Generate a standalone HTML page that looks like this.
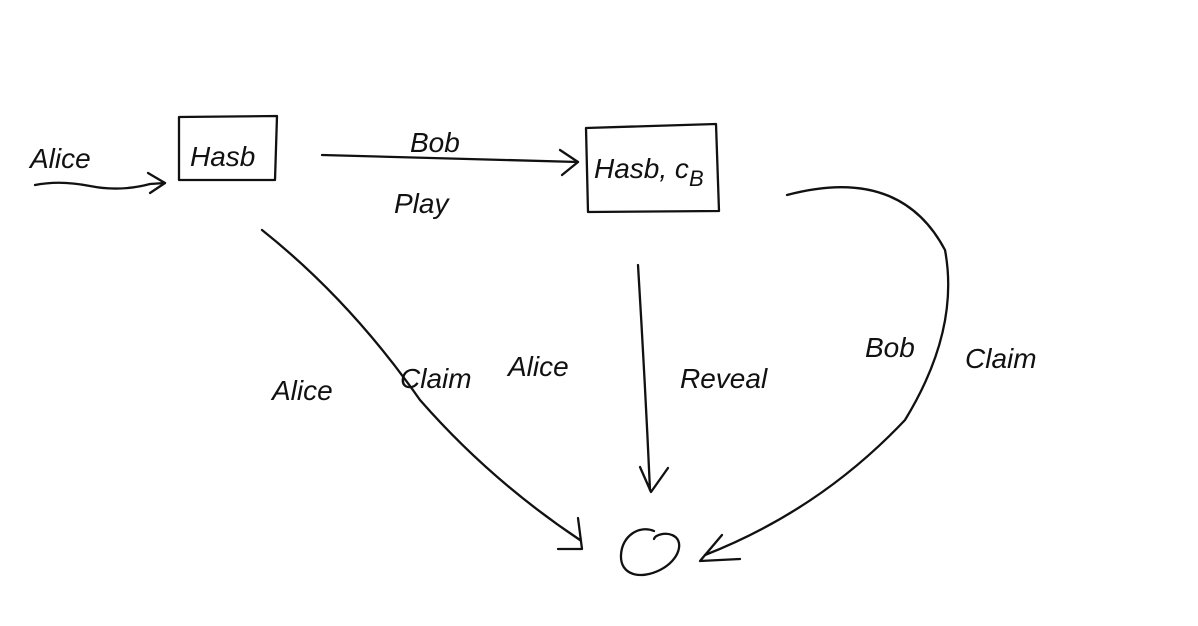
<!DOCTYPE html>
<html><head><meta charset="utf-8"><style>
html,body{margin:0;padding:0;background:#fff;}
svg{display:block;}
text{font-family:"Liberation Sans",sans-serif;font-style:italic;fill:#111;font-size:28px;}
</style></head><body>
<svg width="1198" height="626" viewBox="0 0 1198 626">
<g fill="none" stroke="#111" stroke-width="2.3" stroke-linecap="round" stroke-linejoin="round">
<path d="M35 185 Q60 180 90 186 T150 184 L165 183"/>
<path d="M148 173 L165 183 L150 193"/>
<path d="M179 117 L277 116 L275 180 L179 180 Z"/>
<path d="M322 155 Q450 158 578 162"/>
<path d="M560 150 L578 162 L562 175"/>
<path d="M586 128 L716 124 L719 211 L588 212 Z"/>
<path d="M262 230 Q350 300 420 400 Q490 480 580 540"/>
<path d="M578 518 L582 549 L558 549"/>
<path d="M638 265 Q645 380 650 490"/>
<path d="M640 467 L651 492 L668 468"/>
<path d="M787 195 Q900 165 945 250 Q960 330 905 420 Q820 510 705 555"/>
<path d="M722 535 L700 561 L740 559"/>
<path d="M654 531 C640 525 622 535 621 555 C620 575 640 580 660 570 C680 560 685 540 672 535 C665 532 655 535 654 539"/>
</g>
<text x="30" y="168">Alice</text>
<text x="190" y="166" font-size="26">Hasb</text>
<text x="410" y="152">Bob</text>
<text x="394" y="213">Play</text>
<text x="594" y="178" font-size="26">Hasb, c<tspan font-size="22" dy="8">B</tspan></text>
<text x="272" y="400">Alice</text>
<text x="400" y="388">Claim</text>
<text x="508" y="376">Alice</text>
<text x="680" y="388">Reveal</text>
<text x="865" y="357">Bob</text>
<text x="965" y="368">Claim</text>
</svg>
</body></html>
